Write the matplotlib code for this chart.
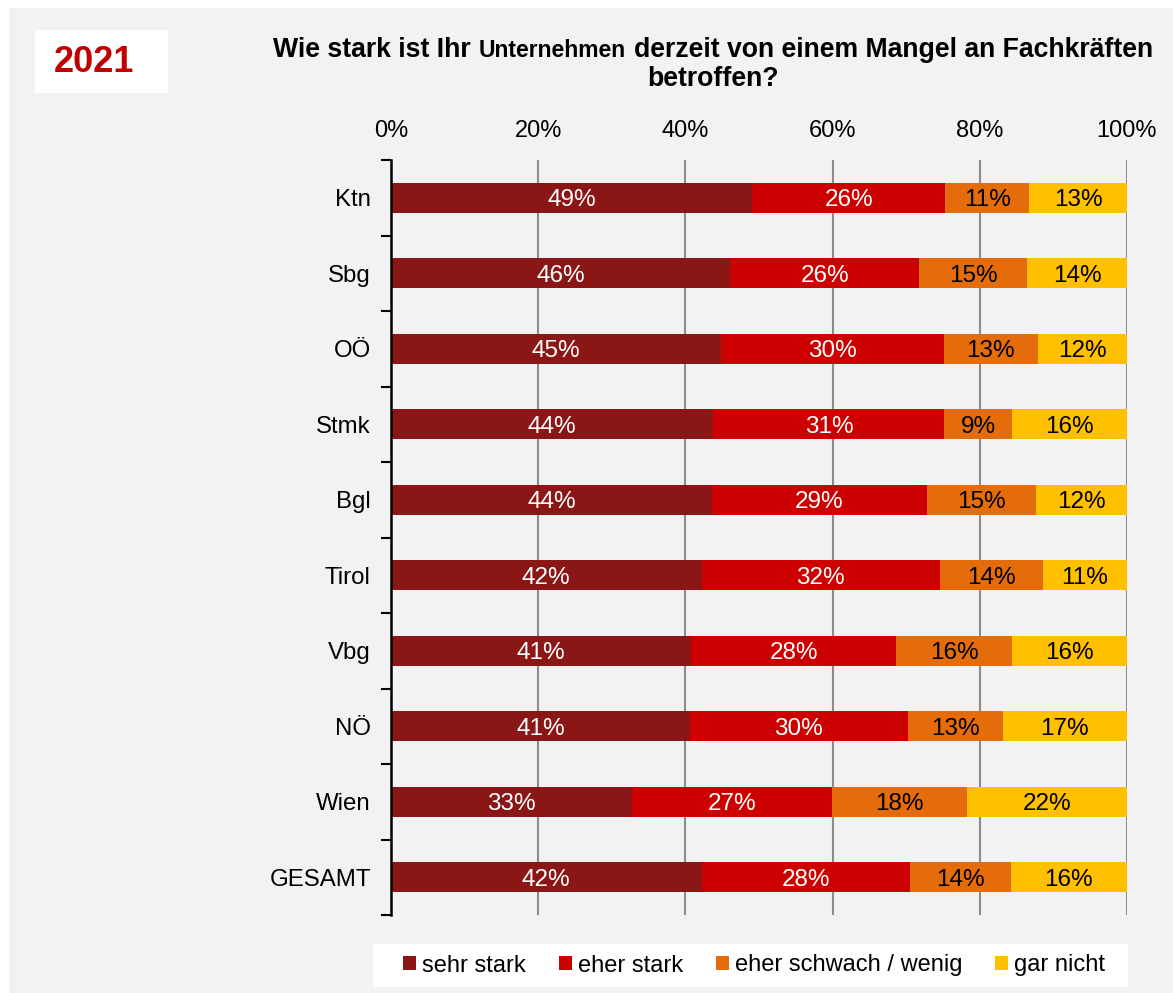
import numpy as np
import matplotlib
matplotlib.use("Agg")
import matplotlib.pyplot as plt
from matplotlib.patches import Rectangle, Patch

plt.rcParams['font.family'] = ['Liberation Sans', 'DejaVu Sans']

regions = ['Ktn', 'Sbg', 'OÖ', 'Stmk', 'Bgl', 'Tirol', 'Vbg', 'NÖ', 'Wien', 'GESAMT']
sehr_stark = [49.1, 46.1, 44.8, 43.8, 43.6, 42.2, 40.8, 40.6, 32.7, 42.2]
eher_stark = [26.2, 25.7, 30.3, 31.4, 29.2, 32.4, 27.8, 29.6, 27.2, 28.3]
eher_schwach = [11.4, 14.6, 12.8, 9.2, 14.9, 14.0, 15.8, 12.9, 18.4, 13.7]
gar_nicht = [13.3, 13.6, 12.1, 15.6, 12.3, 11.4, 15.6, 16.9, 21.7, 15.8]

series = ['sehr stark', 'eher stark', 'eher schwach / wenig', 'gar nicht']
colors = ['#8B1616', '#CC0000', '#E46C0A', '#FFC000']
text_colors = ['white', 'white', 'black', 'black']

W, H = 1173, 993
fig = plt.figure(figsize=(W / 100, H / 100), dpi=100, facecolor='white')
# grey panel with a thin white frame top/left
fig.patches.append(Rectangle((9 / W, 0), 1, 1 - 8 / H, transform=fig.transFigure,
                             facecolor='#F2F2F2', edgecolor='none', zorder=-10))

ax = fig.add_axes([391 / W, 1 - 915 / H, (1127 - 391) / W, (915 - 160) / H])
ax.set_facecolor('#F2F2F2')

y = np.arange(len(regions))
data = [sehr_stark, eher_stark, eher_schwach, gar_nicht]
left = np.zeros(len(regions))
for vals, name, col, tc in zip(data, series, colors, text_colors):
    vals = np.array(vals)
    ax.barh(y, vals, left=left, height=0.4, color=col, label=name, zorder=3)
    for yi, l, v in zip(y, left, vals):
        ax.text(l + v / 2, yi, f'{v:.0f}%', ha='center', va='center_baseline',
                color=tc, fontsize=17.5, zorder=4)
    left += vals

ax.set_xlim(0, 100)
ax.set_ylim(len(regions) - 0.5, -0.5)
ax.xaxis.tick_top()
ax.set_xticks(np.arange(0, 101, 20))
ax.set_xticklabels([f'{v}%' for v in range(0, 101, 20)], fontsize=17)
ax.tick_params(axis='x', length=0, pad=13)
ax.grid(axis='x', color='#8C8C8C', linewidth=1.5, zorder=0)

ax.set_yticks(np.arange(-0.5, len(regions), 1))
ax.set_yticklabels([])
ax.set_yticks(y, minor=True)
ax.set_yticklabels(regions, minor=True, fontsize=17.3)
ax.tick_params(axis='y', which='major', length=7, width=1.5, direction='out')
ax.tick_params(axis='y', which='minor', length=0, pad=14.5)

for s in ['top', 'right', 'bottom']:
    ax.spines[s].set_visible(False)
ax.spines['left'].set_linewidth(1.8)
ax.spines['left'].set_zorder(5)

# year box
fig.patches.append(Rectangle((35 / W, 1 - 93 / H), 133 / W, 63 / H, transform=fig.transFigure,
                             facecolor='white', edgecolor='none'))
fig.text(94 / W, 1 - 63 / H, '2021', color='#C00000', fontsize=26, fontweight='bold',
         ha='center', va='center')

# title, with a smaller middle word
pieces = [('Wie stark ist Ihr', 19.2), ('Unternehmen', 16.5),
          ('derzeit von einem Mangel an Fachkräften', 19.2)]
fig.canvas.draw()
r = fig.canvas.get_renderer()
gap = 8.5
tmp = []
for s, fs in pieces:
    t = fig.text(0, 1 - 57 / H, s, fontsize=fs, fontweight='bold', ha='left', va='baseline')
    tmp.append(t)
widths = [t.get_window_extent(r).width for t in tmp]
total = sum(widths) + gap * (len(widths) - 1)
x0 = 713 - total / 2
for t, w in zip(tmp, widths):
    t.set_x(x0 / W)
    x0 += w + gap
fig.text(713 / W, 1 - 86 / H, 'betroffen?', fontsize=19.2, fontweight='bold',
         ha='center', va='baseline')

# legend
fig.patches.append(Rectangle((373 / W, 1 - 987 / H), 755 / W, 43 / H, transform=fig.transFigure,
                             facecolor='white', edgecolor='none'))
handles = [Patch(facecolor=c) for c in colors]
fig.legend(handles, series, loc='center', bbox_to_anchor=(754 / W, 1 - 965.5 / H),
           ncol=4, frameon=False, fontsize=17, handlelength=0.55, handleheight=0.55,
           handletextpad=0.25, columnspacing=1.4)

fig.savefig('out.png', dpi=100, facecolor='white')
